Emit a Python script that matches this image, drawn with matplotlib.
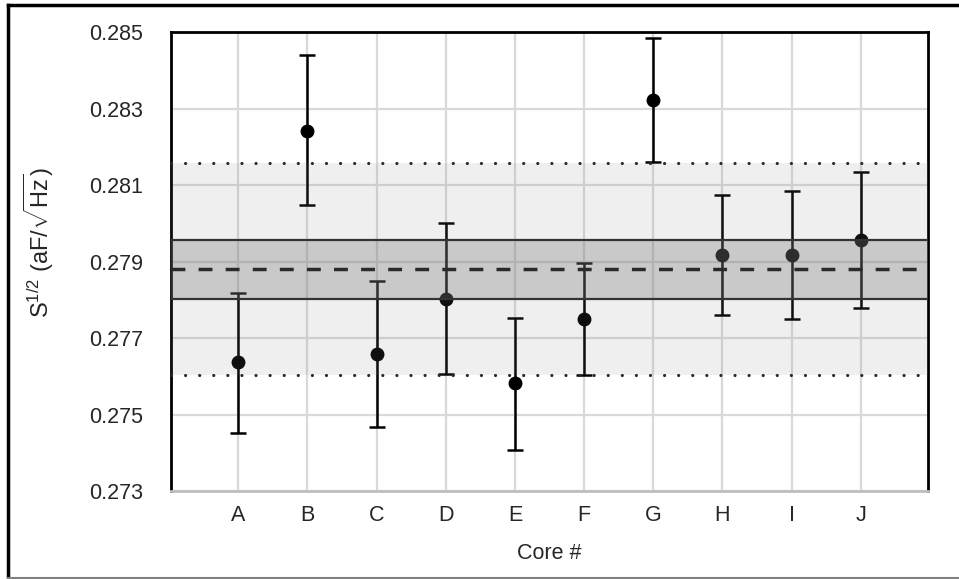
import matplotlib.pyplot as plt
from matplotlib.lines import Line2D

plt.rcParams['font.family'] = ['Liberation Sans', 'DejaVu Sans']
plt.rcParams['mathtext.fontset'] = 'custom'
plt.rcParams['mathtext.rm'] = 'Liberation Sans'
plt.rcParams['mathtext.it'] = 'Liberation Sans'

# data
cores = ['A', 'B', 'C', 'D', 'E', 'F', 'G', 'H', 'I', 'J']
values = [0.27636, 0.28242, 0.27658, 0.27803, 0.27582, 0.27749, 0.28322, 0.27917, 0.27917, 0.27956]
err_low = [0.27452, 0.28048, 0.27468, 0.27605, 0.27407, 0.27602, 0.28161, 0.27759, 0.27749, 0.27779]
err_high = [0.27817, 0.28440, 0.27850, 0.28001, 0.27752, 0.27897, 0.28484, 0.28075, 0.28084, 0.28135]

mean_value = 0.27881
inner_band = (0.27803, 0.27956)
outer_band = (0.27602, 0.28157)

fig = plt.figure(figsize=(9.59, 5.79), dpi=100)
ax = fig.add_axes([171 / 959, 1 - 491 / 579, 757 / 959, 459 / 579])

x = list(range(1, len(cores) + 1))
lower = [v - lo for v, lo in zip(values, err_low)]
upper = [hi - v for v, hi in zip(values, err_high)]
ax.errorbar(x, values, yerr=[lower, upper], fmt='o', color='black',
            markersize=9, elinewidth=1.8, capsize=6, capthick=1.8, zorder=3)

# shaded bands drawn on top, translucent
ax.axhspan(outer_band[0], outer_band[1], color='0.5', alpha=0.12, lw=0, zorder=4)
ax.axhspan(inner_band[0], inner_band[1], color='0.45', alpha=0.3, lw=0, zorder=4)
for yb in inner_band:
    ax.axhline(yb, color='#333333', lw=1.6, zorder=5)
for yb in outer_band:
    ax.axhline(yb, color='#2a2a2a', lw=2.3, linestyle=(0, (0.01, 4.4)),
               dash_capstyle='round', zorder=5)
ax.axhline(mean_value, color='#2a2a2a', lw=2.5, linestyle=(0, (4.0, 3.8)), zorder=5)

ax.set_xlim(0.03, 10.97)
ax.set_ylim(0.273, 0.285)
ax.set_xticks(x)
ax.set_xticklabels(cores)
ax.set_yticks([0.273, 0.275, 0.277, 0.279, 0.281, 0.283, 0.285])
ax.set_yticklabels(['0.273', '0.275', '0.277', '0.279', '0.281', '0.283', '0.285'])
ax.tick_params(axis='both', length=0, labelsize=15.5, colors='#262626')
ax.tick_params(axis='y', pad=20)
ax.tick_params(axis='x', pad=10)

ax.grid(True, color='#d9d9d9', lw=1.6, zorder=0)
ax.set_axisbelow(True)

for side in ['left', 'top', 'right']:
    ax.spines[side].set_color('black')
    ax.spines[side].set_linewidth(2)
ax.spines['bottom'].set_color('#bfbfbf')
ax.spines['bottom'].set_linewidth(2)

ax.set_xlabel('Core #', fontsize=15.5, color='#262626', labelpad=12)
ax.set_ylabel(r'S$^{1/2}$ (aF/$\sqrt{\mathrm{Hz}}$)', fontsize=17, color='#262626')
ax.yaxis.set_label_coords(-0.152, 0.54)

# outer frame of the picture
fig.add_artist(Line2D([8 / 959, 1], [1 - 5 / 579, 1 - 5 / 579], color='black', lw=2.5))
fig.add_artist(Line2D([8 / 959, 8 / 959], [0, 1 - 5 / 579], color='black', lw=2.5))
fig.add_artist(Line2D([8 / 959, 1], [1 / 579, 1 / 579], color='#808080', lw=1.5))

fig.savefig('out.png', dpi=100)
